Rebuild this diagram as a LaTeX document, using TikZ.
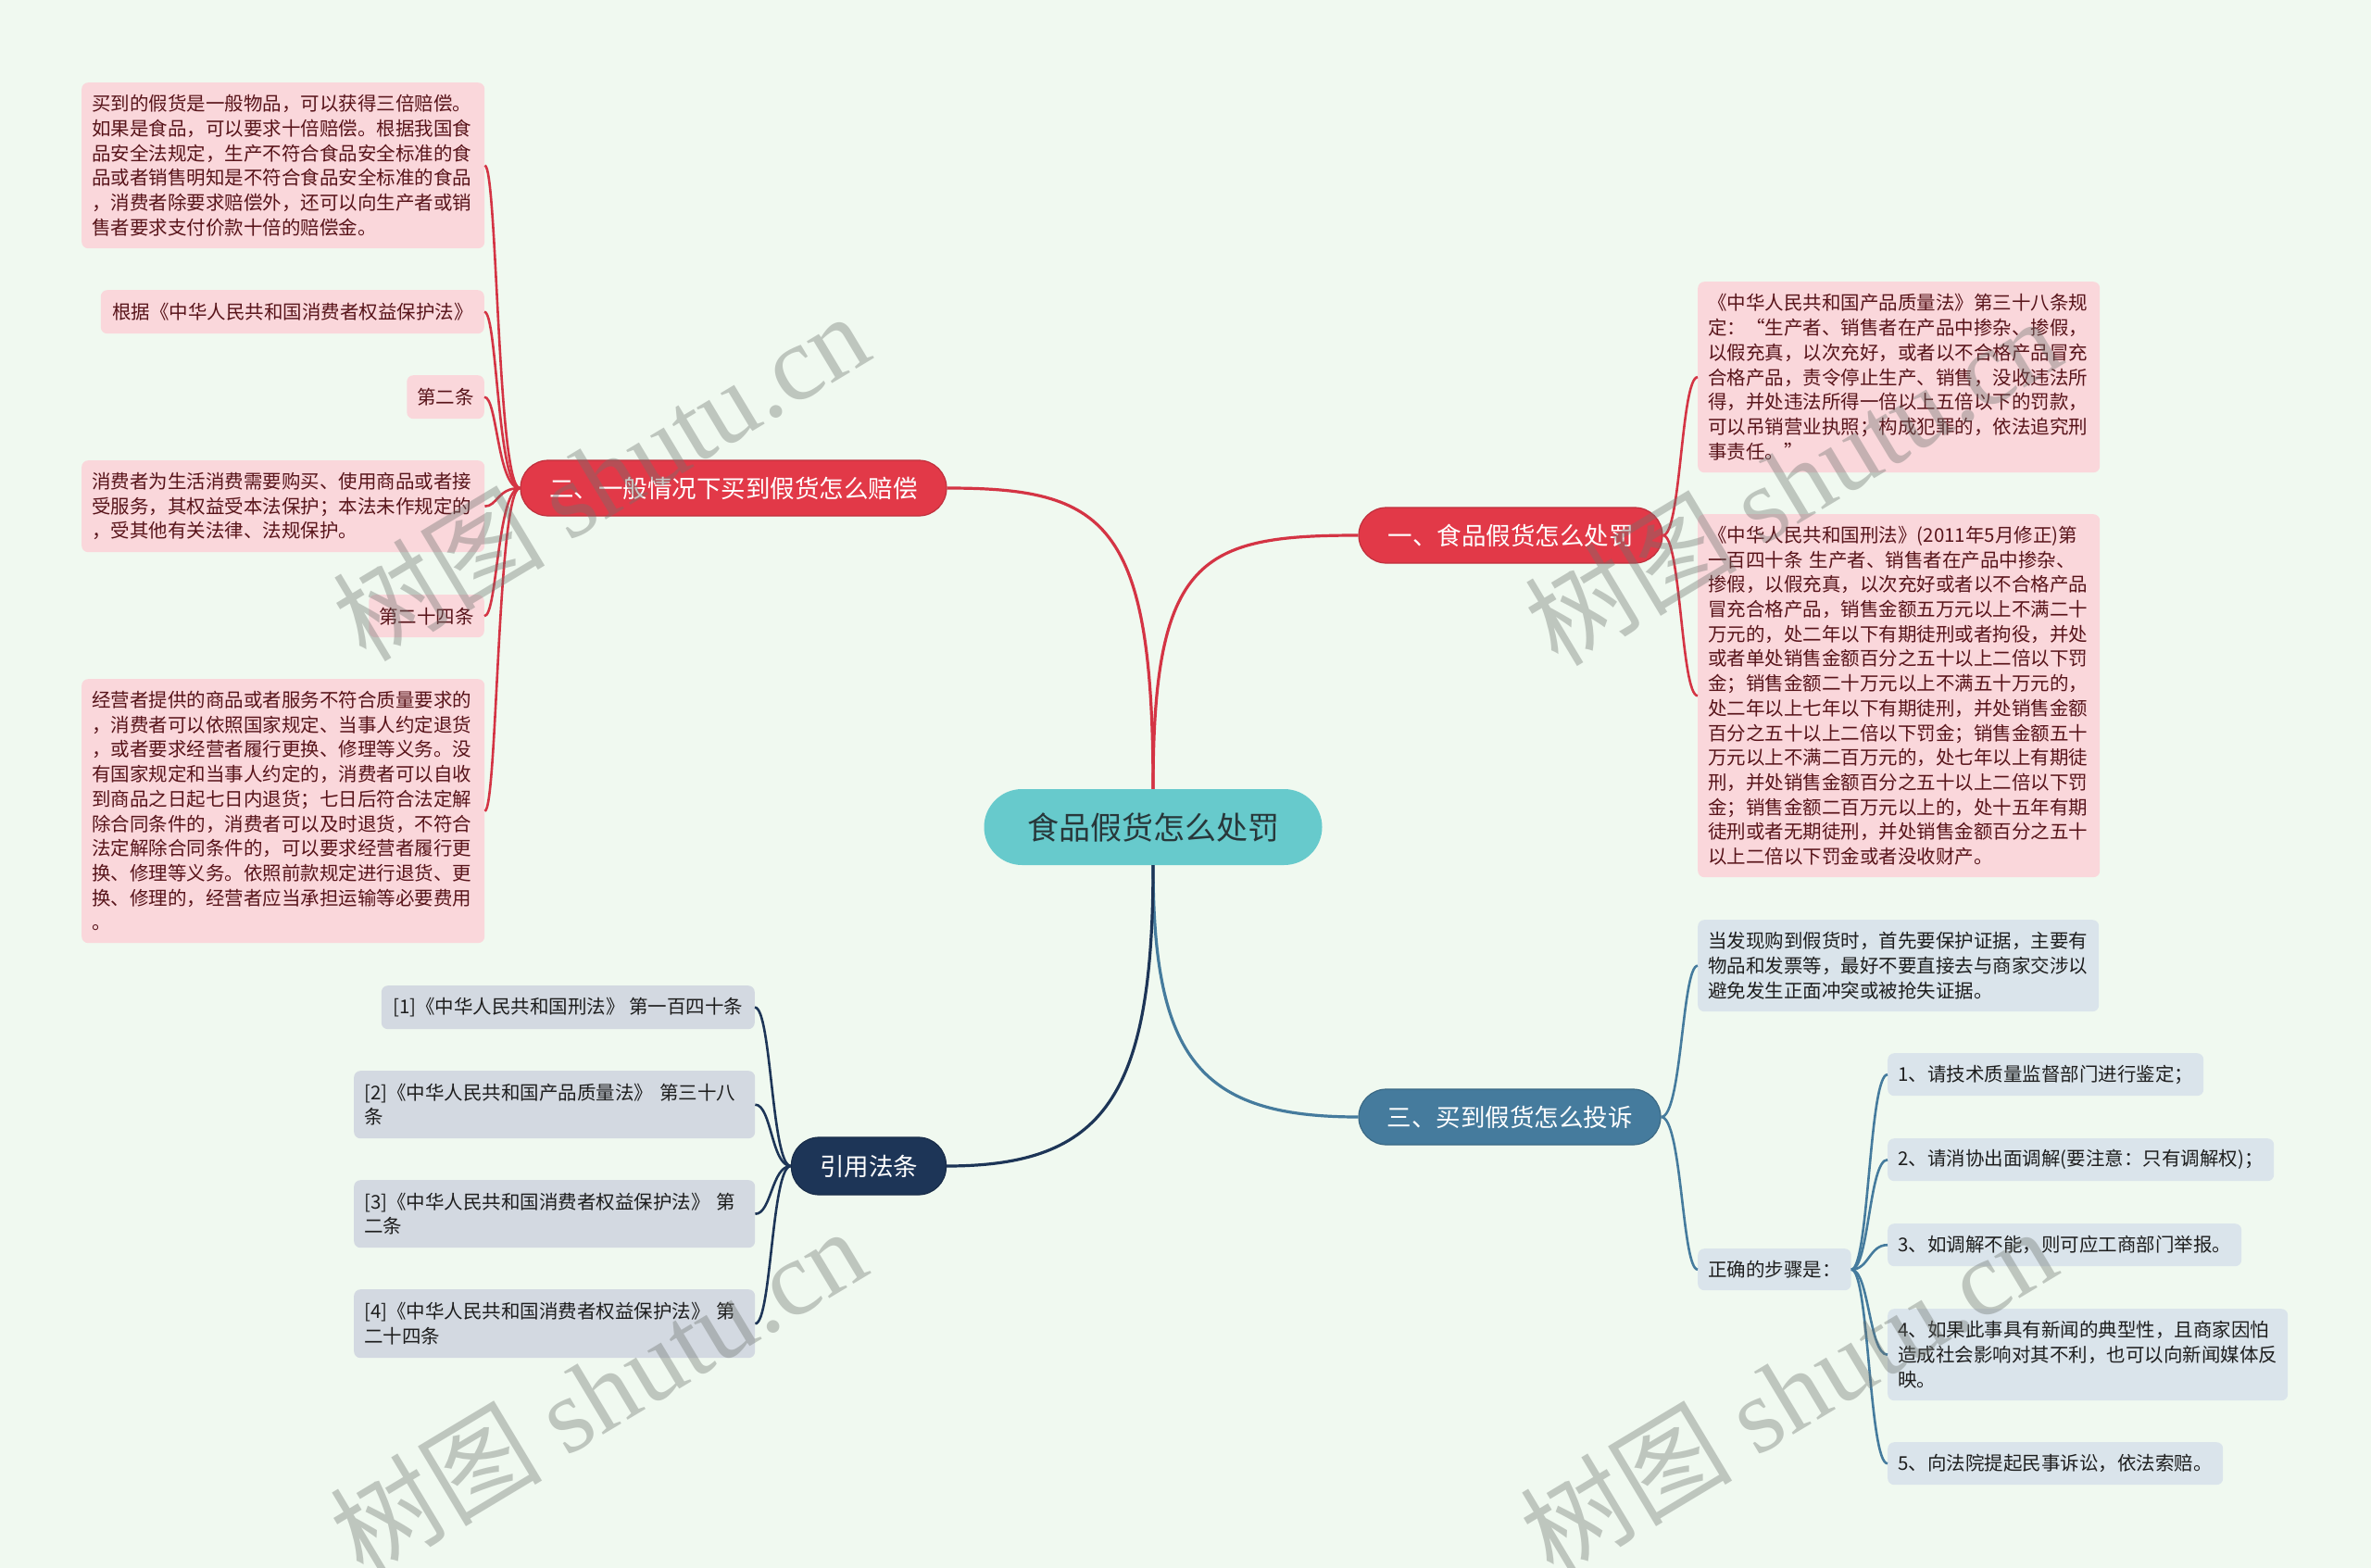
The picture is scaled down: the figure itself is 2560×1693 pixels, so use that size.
\documentclass[tikz,border=0pt]{standalone}
\usepackage{fontspec}
\setmainfont{Noto Sans CJK SC}
\newfontfamily\wmlatin{Liberation Serif}
\usetikzlibrary{calc}
\definecolor{bgcol}{RGB}{240,249,240}
\definecolor{tealc}{RGB}{103,202,204}
\definecolor{redc}{RGB}{226,57,72}
\definecolor{redl}{RGB}{212,52,68}
\definecolor{pinkbox}{RGB}{250,215,219}
\definecolor{maroontext}{RGB}{88,20,26}
\definecolor{bluec}{RGB}{69,123,157}
\definecolor{bluebox}{RGB}{218,228,235}
\definecolor{navyc}{RGB}{29,53,87}
\definecolor{graybox}{RGB}{211,217,225}
\definecolor{darktext}{RGB}{30,30,30}
\definecolor{centertext}{RGB}{40,55,58}
\definecolor{wmcol}{RGB}{110,115,110}
\begin{document}
\begin{tikzpicture}[x=1pt,y=-1pt,
  leaf/.style={rounded corners=7pt, inner xsep=11pt, inner ysep=0pt, font=\fontsize{20.5}{26.7}\selectfont, align=left},
  pinkleaf/.style={leaf, fill=pinkbox, text=maroontext},
  blueleaf/.style={leaf, fill=bluebox, text=darktext},
  grayleaf/.style={leaf, fill=graybox, text=darktext},
  branchnode/.style={rounded corners=30pt, minimum height=60pt, inner xsep=10pt, inner ysep=0pt, text=white, font=\fontsize{26.5}{30}\selectfont, line width=1.2pt},
  mainred/.style={draw=redl, line width=3.2pt},
  mainblue/.style={draw=bluec, line width=3.2pt},
  mainnavy/.style={draw=navyc, line width=3.2pt},
  leafred/.style={draw=redl, line width=2.6pt},
  leafblue/.style={draw=bluec, line width=2.6pt},
  leafnavy/.style={draw=navyc, line width=2.6pt},
  wm/.style={text=wmcol, opacity=0.38, rotate=31, inner sep=0pt}
]
\useasboundingbox (0,0) rectangle (2560,1693);
\fill[bgcol] (0,0) rectangle (2560,1693);

% center
\node[fill=tealc, rounded corners=41pt, minimum width=365pt, minimum height=82pt, inner sep=0pt, text=centertext, font=\fontsize{34}{38}\selectfont] (c) at (1245,893) {食品假货怎么处罚};

% branches
\node[branchnode, fill=redc, draw=redc!85!black, minimum width=328pt] (b1) at (1631,578) {一、食品假货怎么处罚};
\node[branchnode, fill=redc, draw=redc!85!black, minimum width=460pt] (b2) at (792,527) {二、一般情况下买到假货怎么赔偿};
\node[branchnode, fill=bluec, draw=bluec!85!black, minimum width=326pt] (b3) at (1630,1206) {三、买到假货怎么投诉};
\node[branchnode, fill=navyc, draw=navyc!85!black, minimum width=167pt, minimum height=62pt] (b4) at (938,1259) {引用法条};

% branch 2 leaves
\node[pinkleaf, anchor=north west, text width=413pt, minimum height=179pt] (n1) at (88,89) {买到的假货是一般物品，可以获得三倍赔偿。\\如果是食品，可以要求十倍赔偿。根据我国食\\品安全法规定，生产不符合食品安全标准的食\\品或者销售明知是不符合食品安全标准的食品\\，消费者除要求赔偿外，还可以向生产者或销\\售者要求支付价款十倍的赔偿金。};
\node[pinkleaf, anchor=north east, minimum width=414pt, minimum height=47pt] (n2) at (523,313) {根据《中华人民共和国消费者权益保护法》};
\node[pinkleaf, anchor=north east, minimum width=82pt, minimum height=47pt] (n3) at (523,405) {第二条};
\node[pinkleaf, anchor=north west, text width=413pt, minimum height=99pt] (n4) at (88,497) {消费者为生活消费需要购买、使用商品或者接\\受服务，其权益受本法保护；本法未作规定的\\，受其他有关法律、法规保护。};
\node[pinkleaf, anchor=north east, minimum width=123pt, minimum height=46pt] (n5) at (523,642) {第二十四条};
\node[pinkleaf, anchor=north west, text width=413pt, minimum height=285pt] (n6) at (88,733) {经营者提供的商品或者服务不符合质量要求的\\，消费者可以依照国家规定、当事人约定退货\\，或者要求经营者履行更换、修理等义务。没\\有国家规定和当事人约定的，消费者可以自收\\到商品之日起七日内退货；七日后符合法定解\\除合同条件的，消费者可以及时退货，不符合\\法定解除合同条件的，可以要求经营者履行更\\换、修理等义务。依照前款规定进行退货、更\\换、修理的，经营者应当承担运输等必要费用\\。};

% branch 1 leaves
\node[pinkleaf, anchor=north west, text width=412pt, minimum height=206pt] (r1) at (1833,304) {《中华人民共和国产品质量法》第三十八条规\\定：“生产者、销售者在产品中掺杂、掺假，\\以假充真，以次充好，或者以不合格产品冒充\\合格产品，责令停止生产、销售，没收违法所\\得，并处违法所得一倍以上五倍以下的罚款，\\可以吊销营业执照；构成犯罪的，依法追究刑\\事责任。”};
\node[pinkleaf, anchor=north west, text width=412pt, minimum height=392pt] (r2) at (1833,555) {《中华人民共和国刑法》(2011年5月修正)第\\一百四十条~生产者、销售者在产品中掺杂、\\掺假，以假充真，以次充好或者以不合格产品\\冒充合格产品，销售金额五万元以上不满二十\\万元的，处二年以下有期徒刑或者拘役，并处\\或者单处销售金额百分之五十以上二倍以下罚\\金；销售金额二十万元以上不满五十万元的，\\处二年以上七年以下有期徒刑，并处销售金额\\百分之五十以上二倍以下罚金；销售金额五十\\万元以上不满二百万元的，处七年以上有期徒\\刑，并处销售金额百分之五十以上二倍以下罚\\金；销售金额二百万元以上的，处十五年有期\\徒刑或者无期徒刑，并处销售金额百分之五十\\以上二倍以下罚金或者没收财产。};

% branch 3 leaves
\node[blueleaf, anchor=north west, text width=411pt, minimum height=99pt] (t1) at (1833,993) {当发现购到假货时，首先要保护证据，主要有\\物品和发票等，最好不要直接去与商家交涉以\\避免发生正面冲突或被抢失证据。};
\node[blueleaf, anchor=north west, minimum width=165pt, minimum height=45pt] (t2) at (1833,1348) {正确的步骤是：};
\node[blueleaf, anchor=north west, minimum width=341pt, minimum height=46pt] (s1) at (2038,1137) {1、请技术质量监督部门进行鉴定；};
\node[blueleaf, anchor=north west, minimum width=417pt, minimum height=46pt] (s2) at (2038,1229) {2、请消协出面调解(要注意：只有调解权)；};
\node[blueleaf, anchor=north west, minimum width=382pt, minimum height=46pt] (s3) at (2038,1321) {3、如调解不能，则可应工商部门举报。};
\node[blueleaf, anchor=north west, text width=410pt, minimum height=99pt] (s4) at (2038,1413) {4、如果此事具有新闻的典型性，且商家因怕\\造成社会影响对其不利，也可以向新闻媒体反\\映。};
\node[blueleaf, anchor=north west, minimum width=362pt, minimum height=46pt] (s5) at (2038,1557) {5、向法院提起民事诉讼，依法索赔。};

% branch 4 leaves
\node[grayleaf, anchor=north east, minimum width=403pt, minimum height=47pt] (l1) at (815,1064) {[1]《中华人民共和国刑法》 第一百四十条};
\node[grayleaf, anchor=north west, text width=411pt, minimum height=73pt] (l2) at (382,1156) {[2]《中华人民共和国产品质量法》~第三十八\\条};
\node[grayleaf, anchor=north west, text width=411pt, minimum height=73pt] (l3) at (382,1274) {[3]《中华人民共和国消费者权益保护法》~第\\二条};
\node[grayleaf, anchor=north west, text width=411pt, minimum height=74pt] (l4) at (382,1392) {[4]《中华人民共和国消费者权益保护法》~第\\二十四条};

% spines
\coordinate (sp1) at (1815,0);
\coordinate (sp2) at (537,0);
\coordinate (sp3) at (1816,0);
\coordinate (sp3b) at (2018,0);
\coordinate (sp4) at (833,0);

% main connectors
\draw[mainred] (c.north) .. controls +(0,-250) and +(-170,0) .. (b1.west);
\draw[mainred] (c.north) .. controls +(0,-290) and +(170,0) .. (b2.east);
\draw[mainblue] (c.south) .. controls +(0,210) and +(-170,0) .. (b3.west);
\draw[mainnavy] (c.south) .. controls +(0,250) and +(170,0) .. (b4.east);

% leaf connectors
\foreach \n in {n1,n2,n3,n4,n5,n6}
  \draw[leafred] (b2.west) .. controls (b2.west -| sp2) and (\n.east -| sp2) .. (\n.east);
\foreach \n in {r1,r2}
  \draw[leafred] (b1.east) .. controls (b1.east -| sp1) and (\n.west -| sp1) .. (\n.west);
\foreach \n in {t1,t2}
  \draw[leafblue] (b3.east) .. controls (b3.east -| sp3) and (\n.west -| sp3) .. (\n.west);
\foreach \n in {s1,s2,s3,s4,s5}
  \draw[leafblue] (t2.east) .. controls (t2.east -| sp3b) and (\n.west -| sp3b) .. (\n.west);
\foreach \n in {l1,l2,l3,l4}
  \draw[leafnavy] (b4.west) .. controls (b4.west -| sp4) and (\n.east -| sp4) .. (\n.east);

% watermarks
\node[wm, font=\fontsize{115}{120}\selectfont] (w1) at (648,514) {树图 {\wmlatin shutu.cn}};
\node[wm, font=\fontsize{115}{120}\selectfont] (w2) at (1935,519) {树图 {\wmlatin shutu.cn}};
\node[wm, font=\fontsize{115}{120}\selectfont] (w3) at (645,1502) {树图 {\wmlatin shutu.cn}};
\node[wm, font=\fontsize{115}{120}\selectfont] (w4) at (1930,1502) {树图 {\wmlatin shutu.cn}};
\end{tikzpicture}
\end{document}
